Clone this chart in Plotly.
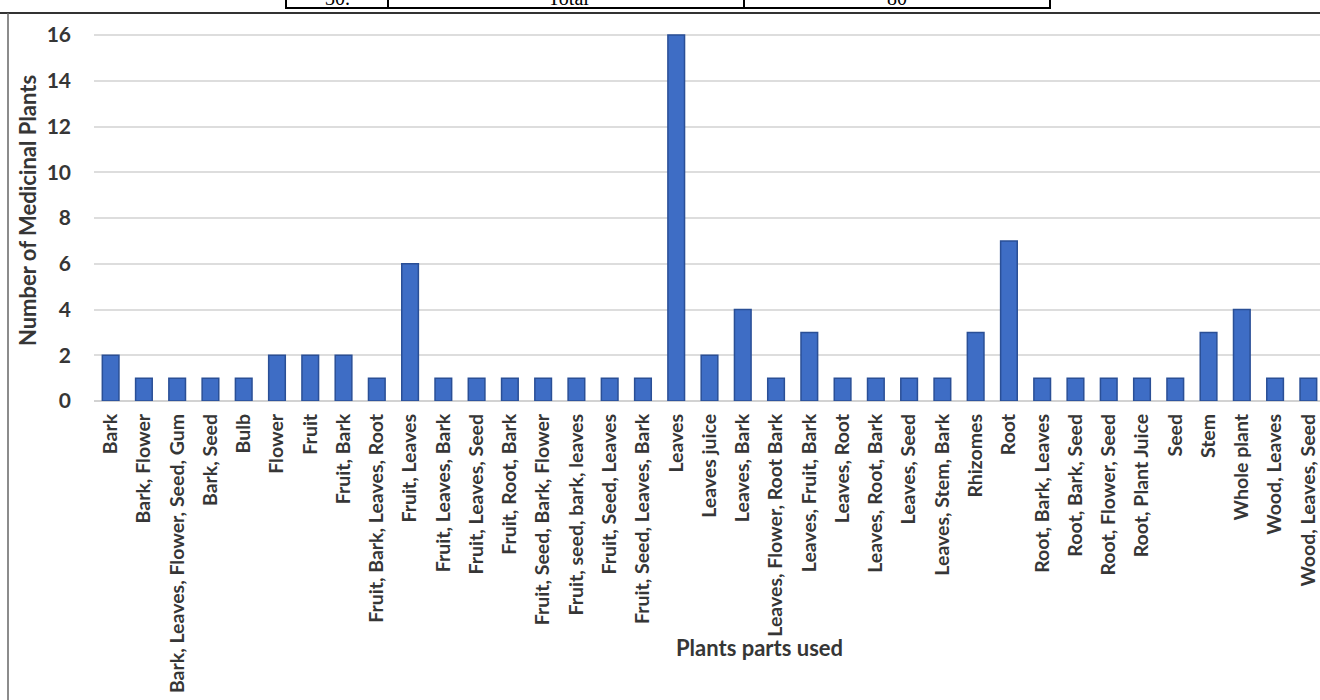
import plotly.graph_objects as go

categories = [
    "Bark", "Bark, Flower", "Bark, Leaves, Flower, Seed, Gum", "Bark, Seed", "Bulb",
    "Flower", "Fruit", "Fruit, Bark", "Fruit, Bark, Leaves, Root", "Fruit, Leaves",
    "Fruit, Leaves, Bark", "Fruit, Leaves, Seed", "Fruit, Root, Bark",
    "Fruit, Seed, Bark, Flower", "Fruit, seed, bark, leaves", "Fruit, Seed, Leaves",
    "Fruit, Seed, Leaves, Bark", "Leaves", "Leaves juice", "Leaves, Bark",
    "Leaves, Flower, Root Bark", "Leaves, Fruit, Bark", "Leaves, Root",
    "Leaves, Root, Bark", "Leaves, Seed", "Leaves, Stem, Bark", "Rhizomes", "Root",
    "Root, Bark, Leaves", "Root, Bark, Seed", "Root, Flower, Seed", "Root, Plant Juice",
    "Seed", "Stem", "Whole plant", "Wood, Leaves", "Wood, Leaves, Seed",
]
counts = [2, 1, 1, 1, 1, 2, 2, 2, 1, 6, 1, 1, 1, 1, 1, 1, 1, 16, 2, 4, 1, 3, 1, 1, 1, 1,
          3, 7, 1, 1, 1, 1, 1, 3, 4, 1, 1]
y_ticks = [0, 2, 4, 6, 8, 10, 12, 14, 16]
table_texts = ["30.", "Total", "80"]

W, H = 1320, 700
ML, MR, MT, MB = 94, 0, 20, 299
PW, PH = W - ML - MR, H - MT - MB


def px(x):
    return (x - ML) / PW


def py(y):
    return (H - MB - y) / PH


TXT = "#363636"
FONT = "Lato"

fig = go.Figure(
    go.Bar(
        x=categories,
        y=counts,
        marker=dict(color="#3E6DC5", line=dict(color="#2A4F96", width=1.5)),
        width=0.5,
    )
)

fig.update_layout(
    width=W,
    height=H,
    margin=dict(l=ML, r=MR, t=MT, b=MB),
    paper_bgcolor="white",
    plot_bgcolor="white",
    showlegend=False,
    font=dict(family=FONT, color=TXT),
    xaxis=dict(
        range=[-0.5, 36.35],
        automargin=False,
        tickangle=-90,
        tickfont=dict(family=FONT, size=19.5, color=TXT, weight="bold"),
        showgrid=False,
        showline=False,
        ticks="",
        ticklabelstandoff=8,
    ),
    yaxis=dict(
        range=[0, 16.66],
        automargin=False,
        tickvals=y_ticks,
        tickfont=dict(family=FONT, size=21, color=TXT, weight="bold"),
        showgrid=True,
        gridcolor="#dddddd",
        gridwidth=2,
        zeroline=True,
        zerolinecolor="#d2d2d2",
        zerolinewidth=2,
        showline=False,
        ticks="",
        ticklabelstandoff=22,
        title=dict(
            text="Number of Medicinal Plants",
            font=dict(family=FONT, size=22, color=TXT, weight="bold"),
            standoff=3,
        ),
    ),
)

# x-axis title
fig.add_annotation(
    text="Plants parts used", x=px(759), y=py(647), xref="paper", yref="paper",
    showarrow=False, font=dict(family=FONT, size=22, color=TXT, weight="bold"),
    xanchor="center", yanchor="middle",
)

# frame of the chart image
fig.add_shape(type="line", xref="paper", yref="paper", x0=px(0), x1=px(W), y0=py(13), y1=py(13),
              line=dict(color="#333333", width=2))
fig.add_shape(type="line", xref="paper", yref="paper", x0=px(8), x1=px(8), y0=py(13), y1=py(H + 5),
              line=dict(color="#666666", width=1.5))

# table fragment at top
fig.add_shape(type="rect", xref="paper", yref="paper", x0=px(286), x1=px(1050), y0=py(-10), y1=py(8),
              line=dict(color="black", width=2), fillcolor="rgba(0,0,0,0)")
for xd in [388, 744]:
    fig.add_shape(type="line", xref="paper", yref="paper", x0=px(xd), x1=px(xd), y0=py(-10), y1=py(8),
                  line=dict(color="black", width=2))
for t, xc in zip(table_texts, [337, 568, 897]):
    fig.add_annotation(text=t, x=px(xc), y=py(-2), xref="paper", yref="paper", showarrow=False,
                       font=dict(family="Liberation Serif", size=20, color="black"),
                       xanchor="center", yanchor="middle")

fig.write_html("out.html", config={"displayModeBar": False},
               post_script="document.body.style.margin='0';")
